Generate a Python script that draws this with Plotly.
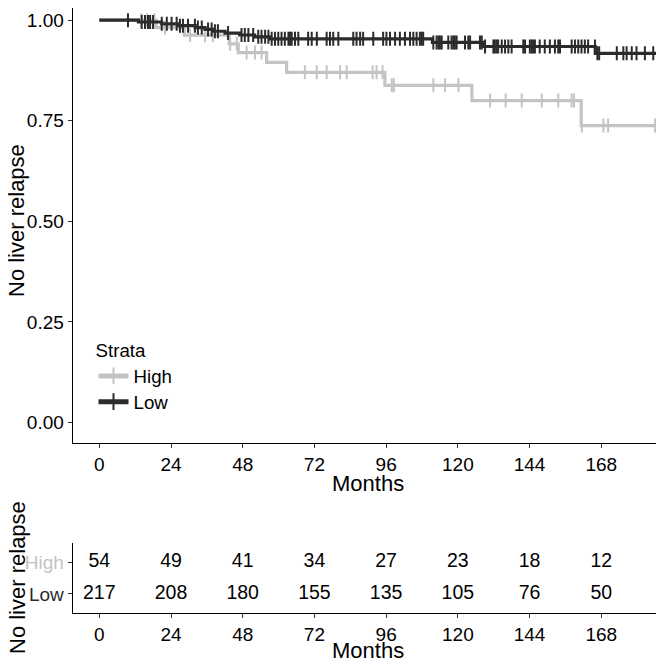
import plotly.graph_objects as go

# ---------------- data ----------------
# Kaplan-Meier steps (time in months, survival after the event)
high_event_times = [19.0, 28.5, 43.5, 46.5, 56.0, 62.7, 95.6, 124.7, 161.3]
high_event_surv = [0.9815, 0.9626, 0.9412, 0.9193, 0.8951, 0.8702, 0.8380, 0.8000, 0.7380]
high_last_time = 195.0
high_censor_times = [14.0, 16.0, 18.5, 22.0, 30.4, 35.4, 38.0, 43.8, 46.0,
                     49.3, 52.1, 54.3, 68.8, 72.8, 76.1, 80.6, 82.8, 91.5, 92.8, 94.8,
                     97.9, 98.6, 111.8, 115.7, 120.2, 130.8, 136.0, 141.4,
                     148.1, 153.6, 158.1, 158.9, 161.5, 168.7, 170.3, 186.0]

low_event_times = [13.1, 20.9, 26.5, 32.1, 35.4, 38.0, 42.1, 47.0, 52.0, 57.0, 111.5, 128.5, 166.0]
low_event_surv = [0.9954, 0.9908, 0.9862, 0.9816, 0.9770, 0.9724, 0.9677, 0.9631, 0.9584,
                  0.9536, 0.9445, 0.9345, 0.9175]
low_last_time = 195.0
low_censor_times = [9.6, 14.2, 15.3, 16.3, 17.0, 18.0, 20.9, 22.6, 24.2, 25.9, 27.0, 28.0, 29.7,
                    32.0, 33.0, 34.3, 36.4, 37.6, 38.7, 39.7, 43.1, 47.6, 48.7, 49.9, 51.5,
                    53.2, 54.3, 55.5, 56.6, 57.7, 58.8, 59.9, 61.0, 62.1, 63.3, 63.8, 64.4,
                    65.5, 66.6, 69.9, 71.1, 72.8, 76.1, 77.2, 78.3, 80.0, 85.0, 86.1, 87.3,
                    88.3, 91.7, 95.0, 96.1, 97.3, 99.0, 100.6, 102.3, 104.0, 105.1, 106.2,
                    107.3, 107.9, 108.4, 111.8, 112.9, 113.5, 114.0, 114.6, 116.8, 117.9,
                    118.5, 119.0, 119.6, 122.4, 123.5, 124.1, 127.4, 128.0, 129.1, 131.9,
                    132.4, 133.0, 133.5, 134.7, 135.8, 136.9, 138.0, 141.9, 142.5, 144.1,
                    144.7, 145.2, 145.8, 147.4, 149.1, 150.8, 152.5, 153.6, 154.2, 158.1,
                    159.2, 160.3, 161.4, 162.5, 163.6, 165.9, 166.7, 167.3, 173.2, 175.4,
                    176.5, 178.2, 179.8, 182.6, 185.4, 188.2]

strata = ["High", "Low"]
strata_colors = {"High": "#c4c4c4", "Low": "#2b2b2b"}

y_ticks = [0.0, 0.25, 0.50, 0.75, 1.00]
x_ticks = [0, 24, 48, 72, 96, 120, 144, 168]

risk_times = [0, 24, 48, 72, 96, 120, 144, 168, 192]
risk_high = ["54", "49", "41", "34", "27", "23", "18", "12", ""]
risk_low = ["217", "208", "180", "155", "135", "105", "76", "50", "31"]

x_title = "Months"
y_title = "No liver relapse"
legend_title = "Strata"

# ---------------- helpers ----------------
def step_curve(times, surv, last):
    xs = [0.0] + list(times) + [last]
    ys = [1.0] + list(surv) + [surv[-1]]
    return xs, ys


def surv_at(t, times, surv):
    s = 1.0
    for et, es in zip(times, surv):
        if et <= t:
            s = es
    return s


FONT = "Liberation Sans, Arial, sans-serif"
TICK_SIZE = 19
RISK_SIZE = 19.5
LEGEND_SIZE = 18.7
TITLE_SIZE = 22

# The page body has an 8px margin: the figure is sized to fit the 664x661 window.
OFF = 8
W, H = 664 - OFF, 661 - OFF


def px(vx):  # window x pixel -> paper fraction
    return (vx - OFF) / W


def py(vy):  # window y pixel -> paper fraction
    return 1 - (vy - OFF) / H


series = {
    "High": (high_event_times, high_event_surv, high_last_time, high_censor_times),
    "Low": (low_event_times, low_event_surv, low_last_time, low_censor_times),
}

fig = go.Figure()

for name in strata:
    et, es, last, cens = series[name]
    col = strata_colors[name]
    xs, ys = step_curve(et, es, last)
    fig.add_trace(go.Scatter(x=xs, y=ys, mode="lines", line=dict(color=col, width=3.2, shape="hv"),
                             showlegend=False, xaxis="x", yaxis="y", hoverinfo="skip"))
    cy = [surv_at(t, et, es) for t in cens]
    fig.add_trace(go.Scatter(x=cens, y=cy, mode="markers",
                             marker=dict(symbol="line-ns", size=10, line=dict(color=col, width=2)),
                             showlegend=False, xaxis="x", yaxis="y", hoverinfo="skip"))
# legend entries (one legend box per stratum to match the compact spacing)
legend_ids = {"High": "legend", "Low": "legend2"}
for name in strata:
    col = strata_colors[name]
    fig.add_trace(go.Scatter(x=[None], y=[None], mode="lines+markers", name=name,
                             line=dict(color=col, width=3),
                             marker=dict(symbol="line-ns", size=10, line=dict(color=col, width=2)),
                             legend=legend_ids[name], xaxis="x", yaxis="y"))

# risk table
row_pos = {"High": 2, "Low": 1}
for name, vals in (("High", risk_high), ("Low", risk_low)):
    fig.add_trace(go.Scatter(x=risk_times, y=[row_pos[name]] * len(risk_times), mode="text",
                             text=vals, textfont=dict(family=FONT, size=RISK_SIZE, color="#000000"),
                             textposition="middle center", cliponaxis=False,
                             showlegend=False, xaxis="x2", yaxis="y2", hoverinfo="skip"))

# main panel: window px 72.7..664 (x), 0..442.7 (y); y value 1.05 at window y=0
main_top_val = 1.05 - OFF / 402.6

axis_common = dict(showgrid=False, zeroline=False, showline=True, linecolor="#000000", linewidth=1.1,
                   ticks="outside", ticklen=4, tickwidth=1.1, tickcolor="#333333", automargin=False,
                   tickfont=dict(family=FONT, size=TICK_SIZE, color="#000000"))

legend_common = dict(xanchor="left", yanchor="top", bgcolor="rgba(0,0,0,0)", borderwidth=0,
                     font=dict(family=FONT, size=LEGEND_SIZE, color="#000000"), itemsizing="constant")

title_font = dict(family=FONT, size=TITLE_SIZE, color="#000000")

fig.update_layout(
    width=W, height=H, autosize=False,
    margin=dict(l=0, r=0, t=0, b=0, autoexpand=False),
    paper_bgcolor="white", plot_bgcolor="white",
    font=dict(family=FONT, color="#000000"),
    xaxis=dict(domain=[px(72.7), 1], range=[-8.9, 189.0], tickvals=x_ticks,
               anchor="y", **axis_common),
    yaxis=dict(domain=[py(442.7), 1], range=[-0.05, main_top_val], tickvals=y_ticks, tickformat=".2f",
               anchor="x", **axis_common),
    xaxis2=dict(domain=[px(72.7), 1], range=[-8.9, 189.0], tickvals=x_ticks,
                anchor="y2", **axis_common),
    yaxis2=dict(domain=[py(613), py(543)], range=[0.4, 2.6], tickvals=[2, 1],
                ticktext=['<span style="color:%s">High</span>' % strata_colors["High"],
                          '<span style="color:%s">Low</span>' % strata_colors["Low"]],
                anchor="x2", **axis_common),
    legend=dict(x=px(93.5), y=py(333),
                title=dict(text=legend_title, font=dict(family=FONT, size=LEGEND_SIZE)),
                **legend_common),
    legend2=dict(x=px(93.5), y=py(383), **legend_common),
    showlegend=True,
    annotations=[
        dict(text=x_title, xref="paper", yref="paper", x=px(368.4), y=py(483),
             xanchor="center", yanchor="middle", showarrow=False, font=title_font),
        dict(text=x_title, xref="paper", yref="paper", x=px(368.4), y=py(650),
             xanchor="center", yanchor="middle", showarrow=False, font=title_font),
        dict(text=y_title, xref="paper", yref="paper", x=px(17), y=py(221), textangle=-90,
             xanchor="center", yanchor="middle", showarrow=False, font=title_font),
        dict(text=y_title, xref="paper", yref="paper", x=px(17), y=py(578), textangle=-90,
             xanchor="center", yanchor="middle", showarrow=False, font=title_font),
    ],
)

fig.write_html("out.html")
